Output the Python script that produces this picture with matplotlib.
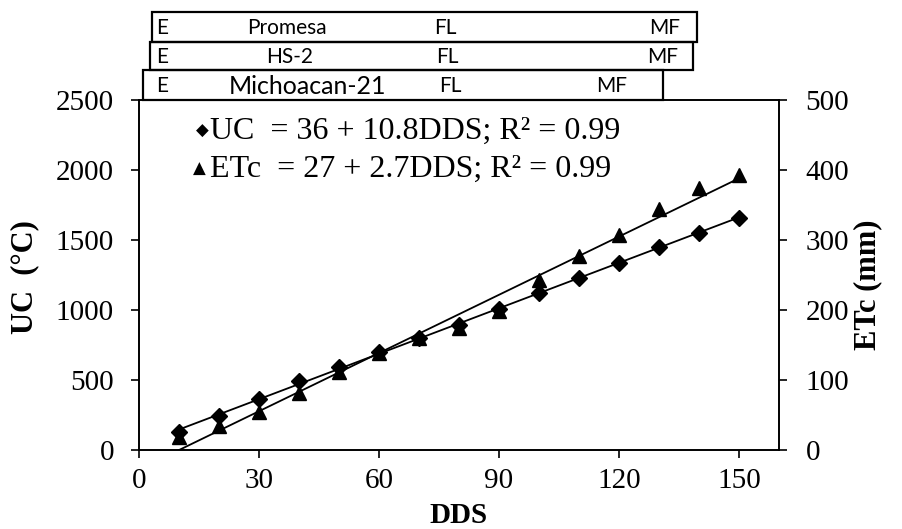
"""
Heat units (UC) and crop evapotranspiration (ETc) against days after sowing (DDS).
"""

import matplotlib
matplotlib.use("Agg")
import matplotlib.pyplot as plt
from matplotlib.patches import Rectangle
import numpy as np


DDS = [10, 20, 30, 40, 50, 60, 70, 80, 90, 100, 110, 120, 130, 140, 150]
UC = [128, 243, 362, 493, 595, 698, 798, 893, 1007, 1124, 1226, 1338, 1448, 1552, 1655]
ETC = [18, 34, 55, 81, 112, 138, 160, 175, 198, 243, 277, 307, 344, 375, 393]

UC_LABEL = "UC  = 36 + 10.8DDS; R² = 0.99"
ETC_LABEL = "ETc  = 27 + 2.7DDS; R² = 0.99"

# phenology bars above the plot: (variety, box extent in px, label x positions in px)
STAGE_ROWS = [
    ("Promesa", (152, 697, 12, 42), [162, 287, 445, 665]),
    ("HS-2", (150, 693, 42, 70), [162, 290, 447, 663]),
    ("Michoacan-21", (143, 663, 70, 100), [162, 308, 450, 612]),
]

SERIF = "Liberation Serif"
W, H = 903, 529

plt.rcParams["font.family"] = [SERIF, "DejaVu Sans"]


def px(x, y):
    """Pixel position (from top left) to figure fraction."""
    return x / W, 1 - y / H


def main() -> None:
    fig = plt.figure(figsize=(W / 100, H / 100), dpi=100)
    left, top = px(139, 100)
    right, bottom = px(779, 450)
    ax = fig.add_axes([left, bottom, right - left, top - bottom])
    ax2 = ax.twinx()

    x = np.array(DDS)
    uc = np.array(UC)
    etc = np.array(ETC)

    ax.plot(x, uc, linestyle="none", marker="D", markersize=8.5, color="black", zorder=3)
    fit = np.polyfit(x, uc, 1)
    ax.plot(x, np.polyval(fit, x), color="black", lw=1.3)

    ax2.plot(x, etc, linestyle="none", marker="^", markersize=9.5, color="black", zorder=3)
    fit2 = np.polyfit(x, etc, 1)
    ax2.plot(x, np.polyval(fit2, x), color="black", lw=1.3)

    ax.set_xlim(0, 160)
    ax.set_ylim(0, 2500)
    ax2.set_ylim(0, 500)
    ax.set_xticks([0, 30, 60, 90, 120, 150])
    ax.set_yticks(range(0, 2501, 500))
    ax2.set_yticks(range(0, 501, 100))

    for a in (ax, ax2):
        a.tick_params(direction="out", length=6, width=1.2, labelsize=21)
        for sp in a.spines.values():
            sp.set_linewidth(1.2)
    ax.tick_params(axis="x", pad=7)
    ax.tick_params(axis="y", pad=12)
    ax2.tick_params(axis="y", pad=13)

    fig.text(*px(459, 523), "DDS", ha="center", va="baseline", fontsize=21,
             fontweight="bold")
    fig.text(*px(25, 277), "UC  (°C)", ha="center", va="center", rotation=90,
             fontsize=22, fontweight="bold")
    fig.text(*px(868, 285), "ETc (mm)", ha="center", va="center", rotation=90,
             fontsize=22, fontweight="bold")

    # equation legend
    fig.text(*px(196, 131), "◆", fontsize=12, va="center", family="DejaVu Sans")
    fig.text(*px(210, 131), UC_LABEL, fontsize=23, va="center")
    fig.text(*px(193, 169), "▲", fontsize=12, va="center", family="DejaVu Sans")
    fig.text(*px(210, 169), ETC_LABEL, fontsize=23, va="center")

    # phenology boxes
    for name, (x0, x1, y0, y1), xs in STAGE_ROWS:
        fx0, fy1 = px(x0, y1)
        fx1, fy0 = px(x1, y0)
        fig.add_artist(Rectangle((fx0, fy1), fx1 - fx0, fy0 - fy1,
                                 transform=fig.transFigure, fill=False,
                                 edgecolor="black", lw=1.6))
        ymid = (y0 + y1) / 2
        for label, xc in zip(["E", name, "FL", "MF"], xs):
            size = 18 if label == "Michoacan-21" else 15
            fig.text(*px(xc, ymid + 1), label, ha="center", va="center",
                     fontsize=size, family="Lato")

    fig.savefig("out.png", dpi=100)
    plt.close(fig)


if __name__ == "__main__":
    main()
